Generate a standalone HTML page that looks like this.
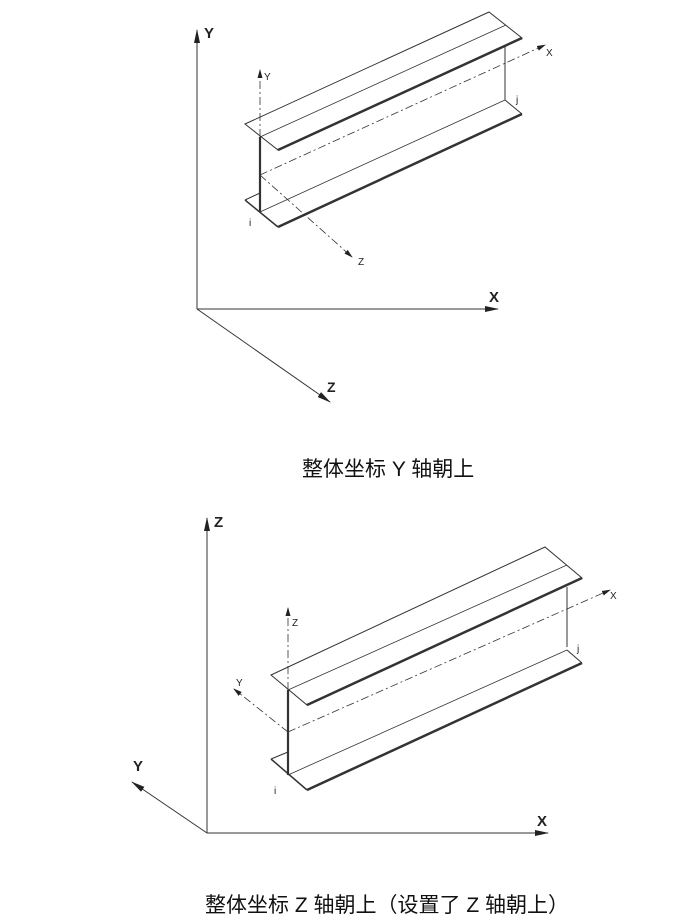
<!DOCTYPE html>
<html><head><meta charset="utf-8"><style>
html,body{margin:0;padding:0;background:#fff;}
svg{display:block;}
text{font-family:"Liberation Sans",sans-serif;fill:#222;}
.lb{font-weight:bold;}
.cap{font-family:"Liberation Sans","Noto Sans CJK SC",sans-serif;font-size:21px;fill:#111;}
</style></head><body>
<svg width="699" height="919" viewBox="0 0 699 919" xmlns="http://www.w3.org/2000/svg">
<defs>
<marker id="ar" markerWidth="14" markerHeight="8" refX="13" refY="4" orient="auto" markerUnits="userSpaceOnUse"><path d="M0,1 L14,4 L0,7 Z" fill="#222"/></marker>
<marker id="as" markerWidth="9" markerHeight="6" refX="8" refY="3" orient="auto" markerUnits="userSpaceOnUse"><path d="M0,0.5 L9,3 L0,5.5 Z" fill="#222"/></marker>
</defs>
<g stroke="#333" fill="none">
<line x1="197" y1="309" x2="197" y2="30" stroke-width="1" marker-end="url(#ar)"/>
<line x1="197" y1="309" x2="498" y2="309" stroke-width="1" marker-end="url(#ar)"/>
<line x1="197" y1="309" x2="330" y2="402" stroke-width="1" marker-end="url(#ar)"/>
<polygon points="245,124 489,12 522,38 278,150" stroke-width="1"/>
<line x1="278" y1="150" x2="522" y2="38" stroke-width="2.5"/>
<line x1="260" y1="137" x2="506" y2="25" stroke-width="0.8"/>
<line x1="260" y1="137" x2="260" y2="212" stroke-width="2.2"/>
<line x1="505" y1="47" x2="505" y2="100" stroke-width="1"/>
<line x1="245" y1="200" x2="260" y2="193" stroke-width="1"/>
<line x1="245" y1="200" x2="278" y2="227" stroke-width="1.5"/>
<line x1="278" y1="227" x2="522" y2="114" stroke-width="2.5"/>
<line x1="505" y1="100" x2="522" y2="114" stroke-width="1"/>
<line x1="260" y1="212" x2="505" y2="100" stroke-width="0.8"/>
<g stroke-dasharray="8,3,2,3" stroke-width="0.8">
<line x1="260" y1="137" x2="260" y2="70" marker-end="url(#as)"/>
<line x1="260" y1="175" x2="545" y2="45" marker-end="url(#as)"/>
<line x1="260" y1="175" x2="352" y2="257" marker-end="url(#as)"/>
</g>
<line x1="207" y1="833" x2="207" y2="518" stroke-width="1" marker-end="url(#ar)"/>
<line x1="207" y1="833" x2="548" y2="833" stroke-width="1" marker-end="url(#ar)"/>
<line x1="207" y1="833" x2="132" y2="782" stroke-width="1" marker-end="url(#ar)"/>
<polygon points="271,675 545,547 582,578 307,705" stroke-width="1"/>
<line x1="307" y1="705" x2="582" y2="578" stroke-width="2.5"/>
<line x1="288" y1="690" x2="567" y2="565" stroke-width="0.8"/>
<line x1="288" y1="690" x2="288" y2="775" stroke-width="2.2"/>
<line x1="567" y1="587" x2="567" y2="647" stroke-width="1"/>
<line x1="271" y1="759" x2="288" y2="752" stroke-width="1"/>
<line x1="271" y1="759" x2="307" y2="790" stroke-width="1.5"/>
<line x1="307" y1="790" x2="582" y2="663" stroke-width="2.5"/>
<line x1="567" y1="650" x2="582" y2="663" stroke-width="1"/>
<line x1="288" y1="775" x2="567" y2="650" stroke-width="0.8"/>
<g stroke-dasharray="8,3,2,3" stroke-width="0.8">
<line x1="288" y1="690" x2="288" y2="608" marker-end="url(#as)"/>
<line x1="288" y1="732" x2="610" y2="590" marker-end="url(#as)"/>
<line x1="288" y1="732" x2="234" y2="689" marker-end="url(#as)"/>
</g>
</g>
<text class="lb" x="204" y="38" font-size="15">Y</text>
<text class="lb" x="489" y="302" font-size="15">X</text>
<text class="lb" x="327" y="392" font-size="14">Z</text>
<text x="264" y="80" font-size="10">Y</text>
<text x="546" y="56" font-size="10">X</text>
<text x="358" y="265" font-size="10">Z</text>
<text x="249" y="226" font-size="10">i</text>
<text x="516" y="103" font-size="10">j</text>
<text class="cap" x="302" y="476">整体坐标 Y 轴朝上</text>
<text class="lb" x="214" y="527" font-size="15">Z</text>
<text class="lb" x="537" y="826" font-size="15">X</text>
<text class="lb" x="133" y="771" font-size="15">Y</text>
<text x="292" y="626" font-size="10">Z</text>
<text x="610" y="599" font-size="10">X</text>
<text x="236" y="686" font-size="10">Y</text>
<text x="274" y="794" font-size="10">i</text>
<text x="577" y="652" font-size="10">j</text>
<text class="cap" x="205" y="912">整体坐标 Z 轴朝上（设置了 Z 轴朝上）</text>
</svg>
</body></html>
